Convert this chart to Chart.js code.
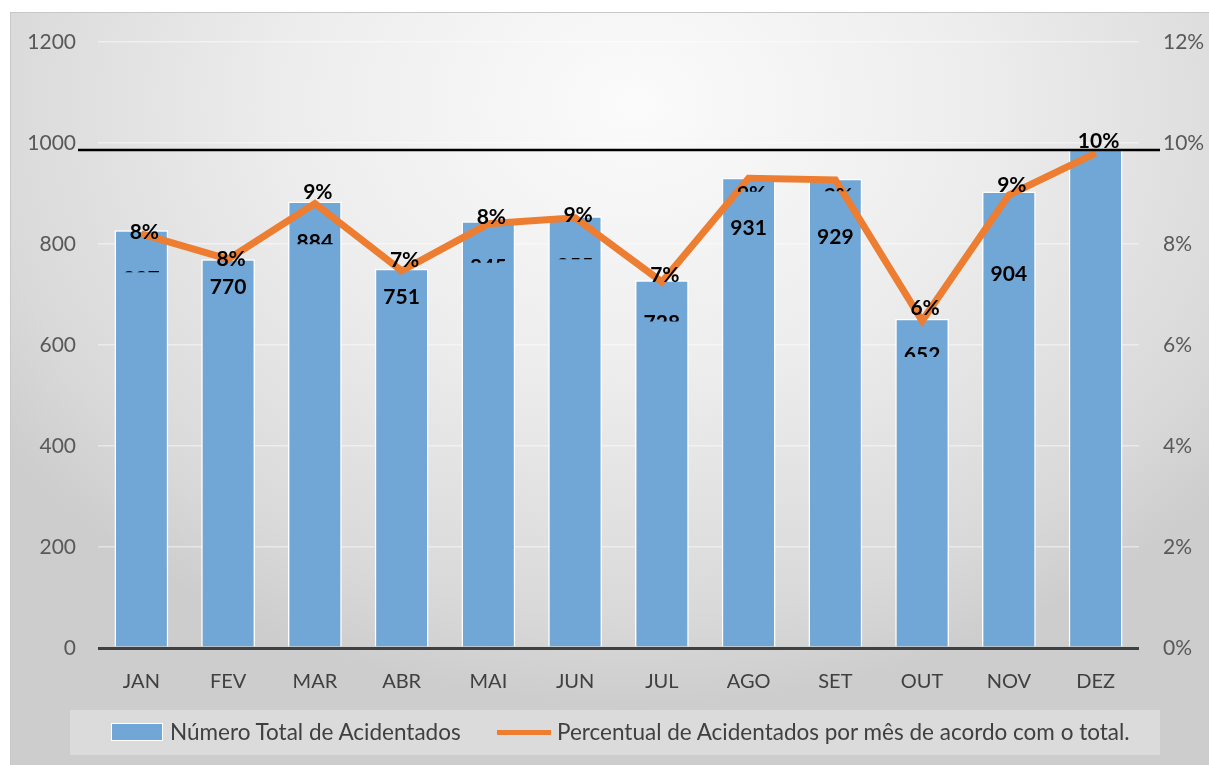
<!DOCTYPE html>
<html>
<head>
<meta charset="utf-8">
<script src="https://cdn.jsdelivr.net/npm/chart.js@4/dist/chart.umd.min.js"></script>
<style>
  html, body { margin: 0; padding: 0; background: #fff; }
  #fundo {
    position: absolute; left: 10px; top: 12px; width: 1198px; height: 752px;
    border-left: 1px solid #c8c8c8; border-top: 1px solid #c8c8c8;
    background: radial-gradient(ellipse 64% 80% at 52% 12%, #fbfbfb 0%, #ededed 45%, #d9d9d9 85%, #cdcdcd 100%);
  }
  #grafico { position: absolute; left: 0; top: 0; }
  #legenda {
    position: absolute; left: 70px; top: 710px; width: 1090px; height: 45px;
    background: rgba(255,255,255,0.28);
    font-family: Lato, sans-serif; font-size: 22.5px; color: #404040;
  }
  #legenda span { position: absolute; top: 8px; white-space: nowrap; }
  .caixa { position: absolute; left: 41px; top: 13px; width: 50px; height: 16px; background: #70a7d7; border: 1.5px solid #fff; }
  .traco { position: absolute; left: 427px; top: 20px; width: 54px; height: 5px; background: #ed7d31; }
</style>
</head>
<body>
<div id="fundo"></div>
<canvas id="grafico" width="1209" height="765"></canvas>
<div id="legenda">
  <div class="caixa"></div><span style="left:100px">Número Total de Acidentados</span>
  <div class="traco"></div><span style="left:487px">Percentual de Acidentados por mês de acordo com o total.</span>
</div>
<script>
// dados
const meses = ['JAN', 'FEV', 'MAR', 'ABR', 'MAI', 'JUN', 'JUL', 'AGO', 'SET', 'OUT', 'NOV', 'DEZ'];
const acidentados = [827, 770, 884, 751, 845, 855, 728, 931, 929, 652, 904, 987];
const percentual = [8.2, 7.7, 8.8, 7.47, 8.4, 8.52, 7.25, 9.3, 9.27, 6.48, 8.97, 9.8];
const linhaRef = 986;

// posição dos rótulos (deslocamento em px) e quanto do texto aparece
const valorDy = [48, 27, 40, 28, 45, 49, 42, 50, 58, 36, 82, 40];
const valorVisivel = [0.1, 1, 0.67, 1, 0.27, 0.1, 0.45, 1, 1, 0.65, 1, 0];
const pctDy = [-2, -1, -12, -11, -7, -3, -7, 15, 16, -13, -11, -13];
const pctVisivel = [1, 1, 1, 1, 1, 1, 1, 0.4, 0.2, 1, 1, 1];

const FONTE = 'Lato, sans-serif';

function rotulo(ctx, txt, x, yc, frac) {
  if (frac <= 0) return;
  const cap = 15;
  ctx.save();
  if (frac < 1) {
    ctx.beginPath();
    ctx.rect(x - 40, yc - cap / 2 - 4, 80, cap * frac + 4);
    ctx.clip();
  }
  ctx.fillText(txt, x, yc + cap / 2);
  ctx.restore();
}

const rotulos = {
  id: 'rotulos',
  afterDatasetsDraw(chart) {
    const ctx = chart.ctx;
    const y = chart.scales.y;
    // linha preta horizontal
    const yl = y.getPixelForValue(linhaRef);
    ctx.save();
    ctx.strokeStyle = '#000';
    ctx.lineWidth = 2.5;
    ctx.beginPath();
    ctx.moveTo(78, yl);
    ctx.lineTo(1160, yl);
    ctx.stroke();

    ctx.fillStyle = '#000';
    ctx.font = 'bold 21px ' + FONTE;
    ctx.textAlign = 'center';
    ctx.textBaseline = 'alphabetic';
    const barras = chart.getDatasetMeta(0).data;
    const pontos = chart.getDatasetMeta(1).data;
    barras.forEach((b, i) => {
      rotulo(ctx, String(acidentados[i]), b.x, b.y + valorDy[i], valorVisivel[i]);
    });
    pontos.forEach((p, i) => {
      rotulo(ctx, percentual[i].toFixed(0) + '%', p.x + 3, p.y + pctDy[i], pctVisivel[i]);
    });
    ctx.restore();
  }
};

new Chart(document.getElementById('grafico'), {
  data: {
    labels: meses,
    datasets: [
      {
        type: 'bar',
        label: 'Número Total de Acidentados',
        data: acidentados,
        backgroundColor: '#70a7d7',
        borderColor: '#ffffff',
        borderWidth: 1.5,
        barPercentage: 0.62,
        categoryPercentage: 1,
        yAxisID: 'y',
        order: 1
      },
      {
        type: 'line',
        label: 'Percentual de Acidentados por mês de acordo com o total.',
        data: percentual,
        borderColor: '#ed7d31',
        borderWidth: 7,
        pointRadius: 0,
        tension: 0,
        yAxisID: 'y1',
        order: 0
      }
    ]
  },
  options: {
    responsive: false,
    animation: false,
    devicePixelRatio: 1,
    layout: { padding: { top: 42, bottom: 55, left: 0, right: 0 } },
    plugins: { legend: { display: false }, tooltip: { enabled: false } },
    scales: {
      x: {
        grid: { display: false },
        border: { display: false },
        ticks: { color: '#404040', font: { family: FONTE, size: 20 }, padding: 14 },
        afterFit(s) { s.height = 62; }
      },
      y: {
        position: 'left',
        min: 0,
        max: 1200,
        ticks: {
          stepSize: 200, color: '#595959', font: { family: FONTE, size: 21 }, padding: 22,
          callback: (v) => String(v)
        },
        grid: {
          drawTicks: false,
          color: (c) => c.tick.value === 0 ? '#404040' : 'rgba(255,255,255,0.45)',
          lineWidth: (c) => c.tick.value === 0 ? 3 : 1.5
        },
        border: { display: false },
        afterFit(s) { s.width = 98; }
      },
      y1: {
        position: 'right',
        min: 0,
        max: 12,
        ticks: {
          stepSize: 2, color: '#595959', font: { family: FONTE, size: 21 }, padding: 24,
          callback: (v) => v + '%'
        },
        grid: { drawOnChartArea: false, drawTicks: false },
        border: { display: false },
        afterFit(s) { s.width = 70; }
      }
    }
  },
  plugins: [rotulos]
});
</script>
</body>
</html>
